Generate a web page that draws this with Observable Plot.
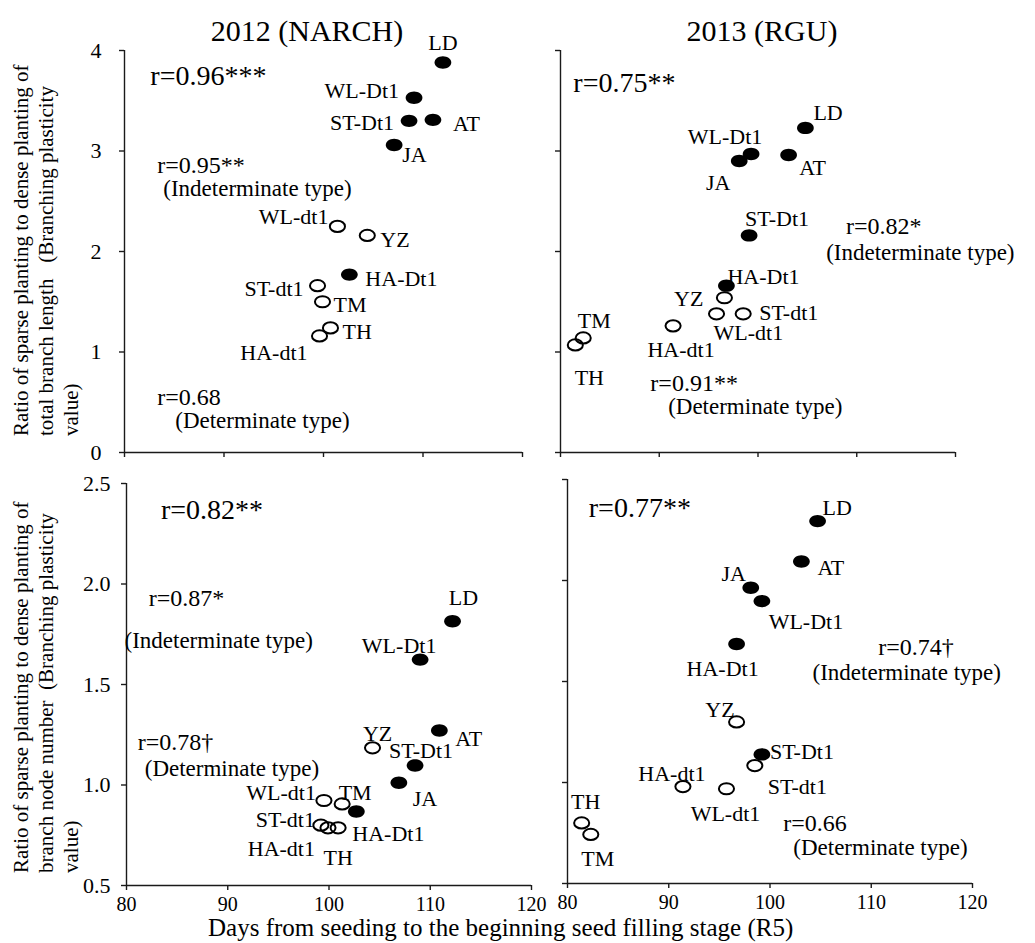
<!DOCTYPE html>
<html>
<head>
<meta charset="utf-8">
<script src="https://cdn.jsdelivr.net/npm/d3@7"></script>
<script src="https://cdn.jsdelivr.net/npm/@observablehq/plot@0.6"></script>
<style>
  html, body { margin: 0; padding: 0; background: #fff; }
  #chart { position: relative; width: 1035px; height: 943px; background: #fff; font-family: "Liberation Serif", "Times New Roman", serif; color: #000; overflow: hidden; }
  .pane { position: absolute; }
  .pane svg { max-width: none !important; }
  .title { position: absolute; font-size: 30px; white-space: nowrap; transform: translate(-50%, -50%); line-height: 1; }
  .xtitle { position: absolute; font-size: 25px; white-space: nowrap; line-height: 1; }
  .ytitle { position: absolute; font-size: 21px; line-height: 25px; white-space: pre; transform: rotate(-90deg); transform-origin: 0 0; }
</style>
</head>
<body>
<div id="chart"></div>
<script>
// ---------- data ----------
const genotypes = ["LD", "WL-Dt1", "ST-Dt1", "AT", "JA", "HA-Dt1", "WL-dt1", "YZ", "ST-dt1", "TM", "TH", "HA-dt1"];
const growthHabit = ["Indeterminate", "Indeterminate", "Indeterminate", "Indeterminate", "Indeterminate", "Indeterminate",
                     "Determinate", "Determinate", "Determinate", "Determinate", "Determinate", "Determinate"];

// 2012 (NARCH) – total branch length
const daysR5_2012_length = [112.0, 109.1, 108.6, 111.0, 107.1, 102.6, 101.4, 104.4, 99.4, 99.9, 100.7, 99.6];
const ratio_2012_length  = [3.88, 3.53, 3.30, 3.31, 3.06, 1.77, 2.25, 2.16, 1.66, 1.50, 1.24, 1.16];
// 2013 (RGU) – total branch length
const daysR5_2013_length = [104.8, 99.3, 99.1, 103.1, 98.1, 96.8, 95.8, 96.6, 98.5, 82.3, 81.5, 91.4];
const ratio_2013_length  = [3.23, 2.97, 2.16, 2.96, 2.90, 1.66, 1.38, 1.54, 1.38, 1.14, 1.07, 1.26];
// 2012 (NARCH) – branch node number
const daysR5_2012_node = [112.2, 109.0, 108.5, 110.9, 106.9, 102.7, 99.5, 104.3, 99.2, 101.3, 100.9, 99.9];
const ratio_2012_node  = [1.815, 1.624, 1.097, 1.271, 1.011, 0.868, 0.923, 1.185, 0.800, 0.906, 0.787, 0.787];
// 2013 (RGU) – branch node number
const daysR5_2013_node = [104.7, 99.2, 99.2, 103.1, 98.1, 96.7, 95.7, 96.7, 98.5, 82.3, 81.4, 91.4];
const ratio_2013_node  = [2.294, 1.898, 1.139, 2.094, 1.964, 1.686, 0.969, 1.300, 1.084, 0.743, 0.800, 0.980];

const xTicks = [80, 90, 100, 110, 120];
const yTicksLength = [0, 1, 2, 3, 4];
const yTicksNode = [0.5, 1.0, 1.5, 2.0, 2.5];

const panelTitles = ["2012 (NARCH)", "2013 (RGU)"];
const xTitle = "Days from seeding to the beginning seed filling stage (R5)";
const yTitleLength = "Ratio of sparse planting to dense planting of\ntotal branch length   (Branching plasticity\nvalue)";
const yTitleNode = "Ratio of sparse planting to dense planting of\nbranch node number  (Branching plasticity\nvalue)";

// correlation annotations: [text, days, ratio, kind]
const notes_2012_length = [["r=0.96***", 82.6, 3.75, "all"], ["r=0.95**", 83.3, 2.86, "sub"], ["(Indeterminate type)", 83.9, 2.63, "type"], ["r=0.68", 83.3, 0.55, "sub"], ["(Determinate type)", 85.1, 0.32, "type"]];
const notes_2013_length = [["r=0.75**", 81.3, 3.68, "all"], ["r=0.82*", 108.9, 2.25, "sub"], ["(Indeterminate type)", 106.9, 1.99, "type"], ["r=0.91**", 89.1, 0.69, "sub"], ["(Determinate type)", 90.9, 0.46, "type"]];
const notes_2012_node = [["r=0.82**", 83.4, 2.366, "all"], ["r=0.87*", 82.2, 1.928, "sub"], ["(Indeterminate type)", 79.8, 1.72, "type"], ["r=0.78\u2020", 81.1, 1.21, "sub"], ["(Determinate type)", 81.8, 1.08, "type"]];
const notes_2013_node = [["r=0.77**", 82.1, 2.361, "all"], ["r=0.74\u2020", 110.7, 1.668, "sub"], ["(Indeterminate type)", 104.2, 1.545, "type"], ["r=0.66", 101.3, 0.797, "sub"], ["(Determinate type)", 102.3, 0.678, "type"]];

// ---------- layout (label placement per genotype: [anchor, dx, dy]) ----------
const labelPos_2012_length = [["middle",0,-20],["end",-15,-7],["end",-15,2],["start",20,4],["start",8,10],["start",16,4],["end",-9,-9],["start",13,5],["end",-14,3],["start",11,3],["start",12,4],["end",-12,17]];
const labelPos_2013_length = [["start",8,-15],["middle",-26,-17],["start",-4,-16],["middle",24,13],["middle",-21,22],["start",1,-9],["start",-3,19],["end",-21,1],["start",16,-1],["middle",11,-17],["middle",14,33],["middle",8,24]];
const labelPos_2012_node = [["middle",11,-23],["middle",-21,-14],["middle",6,-15],["start",16,8],["middle",26,16],["start",-4,22],["end",-8,-8],["middle",5,-14],["end",-6,-5],["middle",13,-11],["middle",0,30],["end",-13,21]];
const labelPos_2013_node = [["start",5,-13],["middle",44,21],["start",8,-2],["start",16,6],["middle",-17,-14],["middle",-14,25],["middle",-1,25],["end",-2,-12],["start",13,21],["middle",7,25],["middle",4,-21],["middle",-11,-13]];

const FONT = '"Liberation Serif", "Times New Roman", serif';
const noteSize = {all: 28, sub: 24, type: 23};
const AX = "#1a1a1a";

// ellipse marker symbol
const ellipse = {
  draw(ctx, size) {
    const r = Math.sqrt(size / Math.PI);
    const rx = r * 1.35, ry = r, k = 0.5523;
    ctx.moveTo(rx, 0);
    ctx.bezierCurveTo(rx, ry * k, rx * k, ry, 0, ry);
    ctx.bezierCurveTo(-rx * k, ry, -rx, ry * k, -rx, 0);
    ctx.bezierCurveTo(-rx, -ry * k, -rx * k, -ry, 0, -ry);
    ctx.bezierCurveTo(rx * k, -ry, rx, -ry * k, rx, 0);
    ctx.closePath();
  }
};

function panel(cfg) {
  const rows = genotypes.map((g, i) => ({g, habit: growthHabit[i], x: cfg.days[i], y: cfg.ratio[i]}));
  const y0 = cfg.yDomain[0], y1 = cfg.yDomain[1];
  const marks = [
    Plot.ruleX([80], {y1: y0, y2: y1, stroke: AX, strokeWidth: 1.4}),
    Plot.ruleY([y0], {x1: 80, x2: 120, stroke: AX, strokeWidth: 1.4}),
    Plot.axisX({ticks: xTicks, tickSize: 5, tickPadding: 6, label: null, stroke: AX, strokeWidth: 1.4, fill: "#000",
                fontSize: 20, tickFormat: cfg.xLabels ? (d => String(d)) : (() => "")}),
    Plot.axisY({ticks: cfg.yTicks, tickSize: 5, tickPadding: cfg.yPad, label: null, stroke: AX, strokeWidth: 1.4, fill: "#000",
                fontSize: 22, tickFormat: cfg.yLabels ? cfg.yFormat : (() => "")}),
    Plot.dot(rows.filter(d => d.habit === "Indeterminate"), {x: "x", y: "y", symbol: ellipse, r: 6.2, fill: "#000", stroke: "none"}),
    Plot.dot(rows.filter(d => d.habit === "Determinate"), {x: "x", y: "y", symbol: ellipse, r: 5.6, fill: "none", stroke: "#000", strokeWidth: 2})
  ];
  rows.forEach((d, i) => {
    const [anchor, dx, dy] = cfg.labelPos[i];
    marks.push(Plot.text([d], {x: "x", y: "y", text: "g", textAnchor: anchor, dx, dy, fontSize: 22, fill: "#000"}));
  });
  cfg.notes.forEach(([t, x, y, kind]) => {
    marks.push(Plot.text([{t, x, y}], {x: "x", y: "y", text: "t", textAnchor: "start", fontSize: noteSize[kind], fill: "#000"}));
  });
  const svg = Plot.plot({
    width: cfg.width, height: cfg.height,
    marginLeft: cfg.m[0], marginRight: cfg.m[1], marginTop: cfg.m[2], marginBottom: cfg.m[3],
    x: {domain: [80, 120], label: null},
    y: {domain: cfg.yDomain, label: null},
    style: {background: "transparent", overflow: "visible", fontFamily: FONT, fontSize: "22px", color: "#000"},
    marks
  });
  const div = document.createElement("div");
  div.className = "pane";
  div.style.left = cfg.left + "px";
  div.style.top = cfg.top + "px";
  div.style.width = cfg.width + "px";
  div.style.height = cfg.height + "px";
  div.appendChild(svg);
  return div;
}

const chart = document.getElementById("chart");
const fmtInt = d => String(d);
const fmt1 = d3.format(".1f");

chart.appendChild(panel({left: 0, top: 0, width: 540, height: 470, m: [124, 18, 50, 18],
  days: daysR5_2012_length, ratio: ratio_2012_length, yDomain: [0, 4], yTicks: yTicksLength, yFormat: fmtInt,
  xLabels: false, yLabels: true, yPad: 18, labelPos: labelPos_2012_length, notes: notes_2012_length}));
chart.appendChild(panel({left: 540, top: 0, width: 495, height: 470, m: [20, 80, 50, 18],
  days: daysR5_2013_length, ratio: ratio_2013_length, yDomain: [0, 4], yTicks: yTicksLength, yFormat: fmtInt,
  xLabels: false, yLabels: false, yPad: 6, labelPos: labelPos_2013_length, notes: notes_2013_length}));
chart.appendChild(panel({left: 0, top: 470, width: 545, height: 473, m: [126, 14, 13, 58],
  days: daysR5_2012_node, ratio: ratio_2012_node, yDomain: [0.5, 2.5], yTicks: yTicksNode, yFormat: fmt1,
  xLabels: true, yLabels: true, yPad: 11, labelPos: labelPos_2012_node, notes: notes_2012_node}));
chart.appendChild(panel({left: 545, top: 470, width: 490, height: 473, m: [22, 63, 9, 60],
  days: daysR5_2013_node, ratio: ratio_2013_node, yDomain: [0.5, 2.5], yTicks: yTicksNode, yFormat: fmt1,
  xLabels: true, yLabels: false, yPad: 6, labelPos: labelPos_2013_node, notes: notes_2013_node}));

function addDiv(cls, text, left, top) {
  const el = document.createElement("div");
  el.className = cls;
  el.textContent = text;
  el.style.left = left + "px";
  el.style.top = top + "px";
  chart.appendChild(el);
  return el;
}
addDiv("title", panelTitles[0], 307, 31);
addDiv("title", panelTitles[1], 762, 31);
addDiv("xtitle", xTitle, 208, 915);
addDiv("ytitle", yTitleLength, 9, 436);
addDiv("ytitle", yTitleNode, 9, 873);
</script>
</body>
</html>
